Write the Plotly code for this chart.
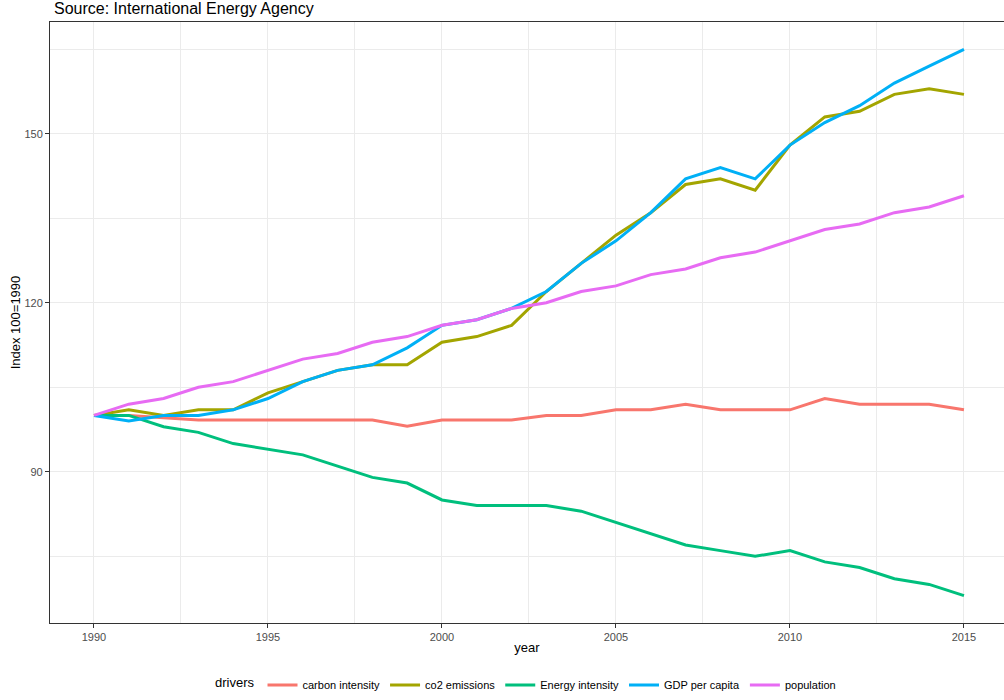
import plotly.graph_objects as go

# Index values (1990 = 100)
years = list(range(1990, 2016))
drivers = ["carbon intensity", "co2 emissions", "Energy intensity", "GDP per capita", "population"]

carbon_intensity = [100, 100, 99.6, 99.2, 99.2, 99.2, 99.2, 99.2, 99.2, 98.1, 99.2, 99.2, 99.2,
                    100, 100, 101, 101, 102, 101, 101, 101, 103, 102, 102, 102, 101]
co2_emissions = [100, 101, 100, 101, 101, 104, 106, 108, 109, 109, 113, 114, 116,
                 122, 127, 132, 136, 141, 142, 140, 148, 153, 154, 157, 158, 157]
energy_intensity = [100, 100, 98, 97, 95, 94, 93, 91, 89, 88, 85, 84, 84,
                    84, 83, 81, 79, 77, 76, 75, 76, 74, 73, 71, 70, 68]
gdp_per_capita = [100, 99, 100, 100, 101, 103, 106, 108, 109, 112, 116, 117, 119,
                  122, 127, 131, 136, 142, 144, 142, 148, 152, 155, 159, 162, 165]
population = [100, 102, 103, 105, 106, 108, 110, 111, 113, 114, 116, 117, 119,
              120, 122, 123, 125, 126, 128, 129, 131, 133, 134, 136, 137, 139]

series = [carbon_intensity, co2_emissions, energy_intensity, gdp_per_capita, population]
colors = ["#F8766D", "#A3A500", "#00BF7D", "#00B0F6", "#E76BF3"]

FONT = "Liberation Sans, Arial, sans-serif"

fig = go.Figure()
for name, vals, col in zip(drivers, series, colors):
    fig.add_trace(go.Scatter(x=years, y=vals, name=name, mode="lines",
                             line=dict(color=col, width=3)))

# ggplot theme_bw look
fig.update_xaxes(
    range=[1988.736, 2016.15], tick0=1990, dtick=5,
    showgrid=True, gridcolor="#EBEBEB", gridwidth=1.1,
    minor=dict(tick0=1990, dtick=2.5, showgrid=True, gridcolor="#EBEBEB", gridwidth=0.6, ticks=""),
    showline=True, linecolor="#333333", linewidth=1.1, mirror=True,
    ticks="outside", ticklen=4, tickcolor="#333333", tickwidth=1,
    tickfont=dict(family=FONT, size=11, color="#4D4D4D"),
    title=dict(text="year", font=dict(family=FONT, size=13, color="black"), standoff=0),
    zeroline=False, automargin=False,
)
fig.update_yaxes(
    range=[63.15, 169.85], tick0=0, dtick=30,
    showgrid=True, gridcolor="#EBEBEB", gridwidth=1.1,
    minor=dict(tick0=75, dtick=15, showgrid=True, gridcolor="#EBEBEB", gridwidth=0.6, ticks=""),
    showline=True, linecolor="#333333", linewidth=1.1,
    ticks="outside", ticklen=4, tickcolor="#333333", tickwidth=1,
    tickfont=dict(family=FONT, size=11, color="#4D4D4D"),
    title=dict(text="Index 100=1990", font=dict(family=FONT, size=13, color="black"), standoff=0),
    zeroline=False, automargin=False,
)

fig.add_annotation(text="Source: International Energy Agency", xref="paper", yref="paper",
                   x=0, y=1, xanchor="left", yanchor="bottom", xshift=2, yshift=3,
                   showarrow=False, font=dict(family=FONT, size=16, color="black"))

fig.update_layout(
    width=1004, height=700,
    margin=dict(l=50, r=0, t=22, b=77, autoexpand=False),
    plot_bgcolor="white", paper_bgcolor="white",
    font=dict(family=FONT),
    legend=dict(orientation="h", x=0.5, xanchor="center", y=-0.103, yanchor="middle",
                title=dict(text="drivers", side="left", font=dict(family=FONT, size=13, color="black")),
                font=dict(family=FONT, size=11, color="black"), itemwidth=30),
)

# drop the default page margin so the figure sits at the window origin
fig.write_html("out.html", config={"displayModeBar": False},
               post_script="document.body.style.margin='0';document.body.style.overflow='hidden';")
